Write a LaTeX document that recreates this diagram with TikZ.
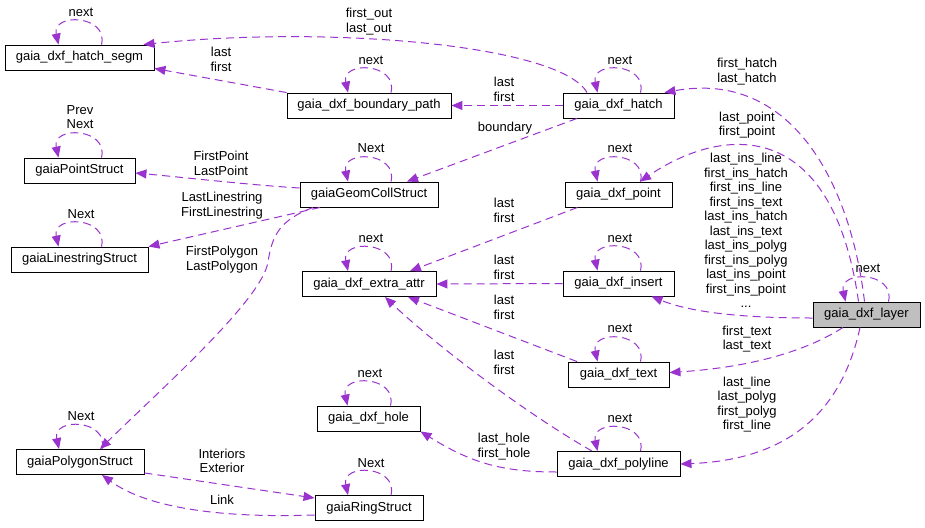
\documentclass[tikz,border=0pt]{standalone}
\usepackage{fontspec}
\setmainfont{Liberation Sans}
\usetikzlibrary{arrows.meta}
\definecolor{edgec}{RGB}{154,50,205}
\definecolor{layerfill}{RGB}{191,191,191}
\newcommand\selfloop[1]{\draw[rel] ([xshift=22pt]#1.north) .. controls +(7,-30) and +(-7,-32) .. ([xshift=-21pt]#1.north);}
\begin{document}
\begin{tikzpicture}[x=1pt,y=-1pt,
 box/.style={draw=black, line width=0.9pt, inner sep=0pt, minimum height=25pt, font=\fontsize{13}{15}\selectfont},
 lbl/.style={inner sep=0pt, align=center, font=\fontsize{13}{14.5}\selectfont},
 rel/.style={draw=edgec, line width=1pt, dash pattern=on 8pt off 5pt, -{Triangle[length=11pt,width=9pt]}},
]
\useasboundingbox (0,0) rectangle (925,527);
% boxes
\node[box, minimum width=149pt] (segm) at (79.5,57.5) {gaia\_dxf\_hatch\_segm};
\node[box, minimum width=164pt] (bpath) at (369,105.5) {gaia\_dxf\_boundary\_path};
\node[box, minimum width=111pt] (pstruct) at (79.5,170.5) {gaiaPointStruct};
\node[box, minimum width=138pt] (geom) at (369,194.5) {gaiaGeomCollStruct};
\node[box, minimum width=111pt] (hatch) at (618.5,105.5) {gaia\_dxf\_hatch};
\node[box, minimum width=107pt] (point) at (618.5,194.5) {gaia\_dxf\_point};
\node[box, minimum width=137pt] (lstr) at (79.5,259.5) {gaiaLinestringStruct};
\node[box, minimum width=134pt] (extra) at (369,284) {gaia\_dxf\_extra\_attr};
\node[box, minimum width=111pt] (insert) at (618.5,283.5) {gaia\_dxf\_insert};
\node[box, minimum width=107pt, fill=layerfill] (layer) at (866.5,314.5) {gaia\_dxf\_layer};
\node[box, minimum width=101pt] (text) at (618.5,374.5) {gaia\_dxf\_text};
\node[box, minimum width=103pt] (hole) at (368.5,418.5) {gaia\_dxf\_hole};
\node[box, minimum width=128pt] (poly) at (80,462) {gaiaPolygonStruct};
\node[box, minimum width=108pt] (ring) at (369,508) {gaiaRingStruct};
\node[box, minimum width=123pt] (pline) at (618.5,464) {gaia\_dxf\_polyline};
% self loops
\selfloop{segm}
\selfloop{bpath}
\selfloop{hatch}
\selfloop{pstruct}
\selfloop{geom}
\selfloop{point}
\selfloop{lstr}
\selfloop{extra}
\selfloop{insert}
\selfloop{layer}
\selfloop{text}
\selfloop{hole}
\selfloop{pline}
\selfloop{poly}
\selfloop{ring}
% loop labels
\node[lbl] (n1) at (81,12) {next};
\node[lbl] (n2) at (371,60) {next};
\node[lbl] (n3) at (620,60) {next};
\node[lbl] (n4) at (80,117) {Prev\\Next};
\node[lbl] (n5) at (371,148) {Next};
\node[lbl] (n6) at (620,148) {next};
\node[lbl] (n7) at (81,214) {Next};
\node[lbl] (n8) at (371,238) {next};
\node[lbl] (n9) at (620,238) {next};
\node[lbl] (n10) at (868,268) {next};
\node[lbl] (n11) at (620,328) {next};
\node[lbl] (n12) at (370,373) {next};
\node[lbl] (n13) at (620,418) {next};
\node[lbl] (n14) at (81,416) {Next};
\node[lbl] (n15) at (371,463) {Next};
% edges
\draw[rel] ([xshift=-31.5pt]hatch.north) .. controls (560,45) and (330,25) .. ([xshift=-11pt]segm.north east);
\draw[rel] (bpath.north west) -- ([yshift=2pt]segm.south east);
\draw[rel] (hatch.west) -- (bpath.east);
\draw[rel] ([xshift=-41.5pt]hatch.south) -- ([xshift=38pt]geom.north);
\draw[rel] ([yshift=6.5pt]geom.west) .. controls (250,185) and (180,177) .. ([yshift=-2.5pt]pstruct.east);
\draw[rel] ([xshift=-49pt]geom.south) -- (lstr.north east);
\draw[rel] ([xshift=-56pt]geom.south) .. controls (280,220) and (272,235) .. (268,262) .. controls (262,300) and (160,390) .. ([xshift=20pt]poly.north);
\draw[rel] ([yshift=2pt]poly.south east) -- ([yshift=10pt]ring.west);
\draw[rel] ([yshift=-7pt]ring.west) .. controls (230,518) and (150,510) .. ([xshift=22pt]poly.south);
\draw[rel] ([yshift=-8pt]pline.west) .. controls (500,472) and (470,462) .. (hole.south east);
\draw[rel] ([xshift=-26.5pt]pline.north) .. controls (520,410) and (430,340) .. ([xshift=16pt]extra.south);
\draw[rel] ([xshift=-41.5pt]text.north) -- ([xshift=39pt]extra.south);
\draw[rel] (insert.west) -- (extra.east);
\draw[rel] ([xshift=-41pt]point.south) -- ([xshift=41pt]extra.north);
\draw[rel] ([xshift=-2pt]layer.north) .. controls (850,180) and (790,70) .. ([xshift=-10pt]hatch.north east);
\draw[rel] ([xshift=-8pt]layer.north) .. controls (832,115) and (722,126) .. ([xshift=21.5pt]point.north);
\draw[rel] ([yshift=-3.5pt]layer.west) .. controls (740,318) and (690,312) .. ([xshift=33pt]insert.south);
\draw[rel] ([xshift=-23.5pt]layer.south) .. controls (800,355) and (740,368) .. ([yshift=2pt]text.east);
\draw[rel] ([xshift=-6.5pt]layer.south) .. controls (840,420) and (780,460) .. (pline.east);
% edge labels
\node[lbl] (e1) at (369,21.5) {first\_out\\last\_out};
\node[lbl] (e2) at (221,59.5) {last\\first};
\node[lbl] (e3) at (504,89.5) {last\\first};
\node[lbl] (e4) at (505,128) {boundary};
\node[lbl] (e5) at (221,163.5) {FirstPoint\\LastPoint};
\node[lbl] (e6) at (222,205.5) {LastLinestring\\FirstLinestring};
\node[lbl] (e7) at (222,259.5) {FirstPolygon\\LastPolygon};
\node[lbl] (e8) at (222,461) {Interiors\\Exterior};
\node[lbl] (e9) at (222,500) {Link};
\node[lbl] (e10) at (504,446.5) {last\_hole\\first\_hole};
\node[lbl] (e11) at (504,362.5) {last\\first};
\node[lbl] (e12) at (504,307.5) {last\\first};
\node[lbl] (e13) at (504,267.5) {last\\first};
\node[lbl] (e14) at (504,210.5) {last\\first};
\node[lbl] (e15) at (747,71.5) {first\_hatch\\last\_hatch};
\node[lbl] (e16) at (747,125) {last\_point\\first\_point};
\node[lbl] (e17) at (746,230.5) {last\_ins\_line\\first\_ins\_hatch\\first\_ins\_line\\first\_ins\_text\\last\_ins\_hatch\\last\_ins\_text\\last\_ins\_polyg\\first\_ins\_polyg\\last\_ins\_point\\first\_ins\_point\\...};
\node[lbl] (e18) at (747,339) {first\_text\\last\_text};
\node[lbl] (e19) at (747,404.5) {last\_line\\last\_polyg\\first\_polyg\\first\_line};
\end{tikzpicture}
\end{document}
